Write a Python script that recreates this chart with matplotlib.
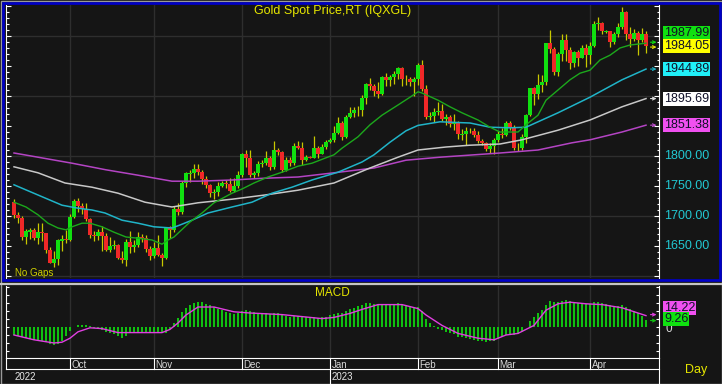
import numpy as np
import pandas as pd
import matplotlib
matplotlib.use('Agg')
import matplotlib.pyplot as plt
from matplotlib.ticker import MultipleLocator
from matplotlib.patches import Rectangle

plt.rcParams['font.family'] = ['Liberation Sans', 'DejaVu Sans']

# ---- data ----
dates = pd.bdate_range('2022-09-13', '2023-04-21')

opens = [1724, 1702, 1697, 1665, 1674, 1677, 1664, 1673, 1671, 1644,
         1622, 1628, 1659, 1661, 1660, 1699, 1725, 1716, 1712, 1695,
         1668, 1666, 1673, 1666, 1644, 1650, 1652, 1630, 1627, 1657,
         1649, 1652, 1665, 1663, 1645, 1633, 1647, 1635, 1630, 1681,
         1676, 1712, 1706, 1755, 1770, 1771, 1779, 1774, 1761, 1751,
         1738, 1740, 1750, 1755, 1754, 1741, 1750, 1769, 1803, 1797,
         1769, 1771, 1786, 1789, 1797, 1781, 1810, 1807, 1777, 1793,
         1788, 1817, 1813, 1793, 1798, 1797, 1814, 1804, 1815, 1824,
         1827, 1839, 1855, 1832, 1865, 1872, 1877, 1876, 1897, 1920,
         1916, 1908, 1904, 1932, 1926, 1931, 1937, 1946, 1929, 1928,
         1923, 1928, 1951, 1912, 1865, 1867, 1873, 1875, 1861, 1865,
         1853, 1855, 1835, 1837, 1842, 1841, 1835, 1825, 1822, 1811,
         1817, 1826, 1837, 1835, 1855, 1847, 1813, 1814, 1831, 1868,
         1913, 1904, 1918, 1923, 1989, 1979, 1940, 1970, 1993, 1977,
         1955, 1973, 1964, 1980, 1969, 1984, 2020, 2021, 2007, 2008,
         1990, 2003, 2015, 2040, 2004, 1995, 2005, 1994, 2004]
highs = [1729, 1707, 1700, 1678, 1680, 1680, 1689, 1689, 1672, 1649,
         1641, 1661, 1668, 1677, 1704, 1729, 1730, 1722, 1721, 1697,
         1675, 1679, 1683, 1671, 1665, 1660, 1654, 1641, 1662, 1675,
         1660, 1674, 1670, 1668, 1650, 1656, 1669, 1638, 1682, 1684,
         1717, 1722, 1758, 1773, 1776, 1786, 1787, 1776, 1767, 1754,
         1745, 1756, 1759, 1760, 1764, 1763, 1775, 1805, 1810, 1810,
         1775, 1791, 1794, 1808, 1800, 1825, 1814, 1809, 1798, 1799,
         1822, 1825, 1823, 1802, 1800, 1833, 1817, 1820, 1827, 1830,
         1850, 1865, 1859, 1869, 1881, 1881, 1883, 1902, 1922, 1930,
         1920, 1924, 1934, 1939, 1935, 1942, 1949, 1949, 1935, 1931,
         1931, 1955, 1960, 1918, 1874, 1880, 1890, 1886, 1870, 1869,
         1870, 1858, 1845, 1848, 1847, 1846, 1842, 1829, 1823, 1822,
         1830, 1841, 1846, 1858, 1858, 1852, 1821, 1836, 1870, 1914,
         1915, 1937, 1935, 1989, 2010, 1982, 1973, 2003, 2004, 1982,
         1975, 1976, 1985, 1987, 1990, 2025, 2032, 2024, 2010, 2009,
         2006, 2022, 2048, 2042, 2015, 2011, 2009, 2013, 2009]
lows = [1697, 1689, 1660, 1654, 1661, 1660, 1654, 1659, 1639, 1621,
        1615, 1618, 1641, 1655, 1658, 1697, 1706, 1704, 1691, 1664,
        1658, 1660, 1642, 1642, 1640, 1645, 1628, 1621, 1617, 1638,
        1640, 1649, 1656, 1640, 1626, 1630, 1634, 1616, 1628, 1664,
        1673, 1701, 1704, 1748, 1757, 1763, 1768, 1754, 1747, 1732,
        1729, 1733, 1748, 1746, 1740, 1740, 1746, 1765, 1781, 1765,
        1764, 1766, 1782, 1785, 1776, 1779, 1801, 1774, 1775, 1783,
        1785, 1811, 1785, 1791, 1796, 1796, 1796, 1803, 1812, 1822,
        1823, 1836, 1826, 1830, 1863, 1865, 1867, 1867, 1886, 1910,
        1900, 1897, 1902, 1917, 1916, 1920, 1928, 1917, 1919, 1917,
        1900, 1918, 1908, 1862, 1860, 1856, 1868, 1859, 1852, 1848,
        1844, 1829, 1827, 1819, 1838, 1832, 1822, 1818, 1808, 1805,
        1804, 1823, 1830, 1834, 1843, 1810, 1809, 1810, 1822, 1866,
        1885, 1895, 1906, 1918, 1972, 1935, 1934, 1958, 1959, 1945,
        1949, 1950, 1963, 1949, 1953, 1982, 2010, 2003, 2005, 1982,
        1986, 1998, 2012, 1993, 1981, 1991, 1969, 1990, 1971]
closes = [1702, 1697, 1665, 1675, 1677, 1664, 1673, 1671, 1644, 1622,
          1628, 1660, 1661, 1660, 1699, 1725, 1716, 1712, 1695, 1668,
          1666, 1673, 1666, 1644, 1650, 1652, 1630, 1627, 1657, 1649,
          1652, 1665, 1663, 1645, 1633, 1647, 1635, 1630, 1681, 1676,
          1712, 1706, 1755, 1771, 1771, 1779, 1774, 1761, 1751, 1738,
          1740, 1750, 1755, 1754, 1741, 1750, 1769, 1803, 1797, 1769,
          1771, 1786, 1789, 1797, 1781, 1810, 1807, 1777, 1793, 1788,
          1817, 1813, 1793, 1798, 1797, 1814, 1804, 1815, 1824, 1827,
          1839, 1855, 1832, 1865, 1872, 1877, 1876, 1897, 1920, 1916,
          1908, 1904, 1932, 1926, 1931, 1937, 1946, 1929, 1928, 1923,
          1928, 1951, 1912, 1865, 1867, 1873, 1875, 1861, 1865, 1854,
          1855, 1836, 1837, 1842, 1841, 1835, 1825, 1822, 1811, 1817,
          1826, 1836, 1835, 1855, 1847, 1813, 1814, 1831, 1868, 1913,
          1904, 1918, 1923, 1989, 1979, 1940, 1970, 1993, 1977, 1955,
          1973, 1964, 1980, 1969, 1984, 2020, 2021, 2008, 2008, 1990,
          2003, 2015, 2040, 2004, 1995, 2005, 1994, 2004, 1984.05]

# moving averages, read at points along each line (bar index, price)
ma_green_x = [0, 3, 6, 8.5, 11, 13, 14.5, 17, 19, 22, 25, 28, 31, 34.5, 37, 38.5, 40,
              44, 47, 50, 54.5, 57, 60, 63.5, 67, 71, 74.5, 78, 80, 82, 86, 89, 92,
              96, 99, 101, 102, 106, 109, 112, 116, 119, 121.5, 126, 128, 131, 133,
              136, 139, 141.5, 144, 146.5, 149, 151.5, 154, 158]
ma_green_y = [1723, 1715, 1702, 1688, 1680, 1677, 1682, 1688, 1688, 1682, 1673, 1665,
              1663, 1660, 1653, 1660, 1665, 1690, 1705, 1722, 1738, 1745, 1755, 1765,
              1773, 1783, 1788, 1797, 1802, 1813, 1832, 1852, 1868, 1885, 1898, 1907,
              1905, 1893, 1882, 1872, 1860, 1848, 1840, 1840, 1852, 1868, 1893, 1910,
              1927, 1938, 1943, 1960, 1968, 1980, 1985, 1987.99]
ma_cyan_x = [0, 6, 12, 16, 19.5, 22.75, 27, 31, 35, 39.5, 41.5, 44.5, 48.5, 54.5,
             59.5, 64.5, 69.5, 74.5, 81, 87, 90, 94, 98, 101, 106.5, 114, 119, 124,
             128, 136, 144, 152, 158]
ma_cyan_y = [1752, 1735, 1718, 1713, 1710, 1705, 1693, 1688, 1682, 1680, 1685, 1693,
             1705, 1715, 1723, 1738, 1748, 1760, 1773, 1790, 1802, 1823, 1842, 1851,
             1857, 1855, 1848, 1847, 1848, 1872, 1898, 1927, 1944.89]
ma_white_x = [0, 6, 12.75, 19.5, 26, 32.75, 37.75, 39.5, 46, 54.5, 62.75, 71, 80,
              89, 96, 101, 108, 114, 121.5, 127, 136, 144, 152, 158]
ma_white_y = [1782, 1772, 1755, 1748, 1738, 1723, 1717, 1715, 1722, 1728, 1735, 1743,
              1755, 1780, 1798, 1810, 1815, 1818, 1820, 1827, 1843, 1860, 1882, 1895.69]
ma_pink_x = [0, 6, 14.5, 23, 31, 39.5, 46, 54.5, 62.75, 71, 80, 90, 98, 106.5,
             121.5, 131, 139.5, 144, 152, 158]
ma_pink_y = [1805, 1798, 1788, 1777, 1768, 1758, 1758, 1760, 1763, 1765, 1772, 1780,
             1793, 1798, 1805, 1810, 1822, 1827, 1840, 1851.38]

# MACD histogram per bar and signal line points
macd_hist = [-10, -11, -13, -14, -15, -16, -16, -17, -19, -21,
             -23, -21, -17, -11, -5, 0, 2, 3, 3, 1,
             -1, -2, -4, -6, -8, -9, -11, -14, -11, -8,
             -7, -6, -6, -6, -7, -7, -6, -6, -7, -3,
             5, 11, 19, 24, 28, 30, 31, 31, 29, 27,
             25, 23, 21, 19, 17, 16, 18, 20, 21, 20,
             19, 18, 17, 17, 16, 17, 17, 15, 14, 13,
             14, 14, 12, 12, 11, 12, 11, 12, 13, 15,
             16, 18, 17, 20, 22, 24, 26, 28, 30, 30,
             29, 28, 29, 29, 29, 29, 30, 28, 27, 25,
             24, 25, 20, 10, 5, 1, -2, -4, -6, -8,
             -9, -12, -13, -14, -15, -16, -17, -18, -19, -18,
             -17, -15, -13, -10, -9, -10, -9, -6, 0, 8,
             12, 17, 21, 28, 32, 31, 31, 33, 34, 32,
             31, 30, 30, 29, 29, 31, 31, 30, 29, 27,
             26, 26, 28, 25, 22, 20, 17, 14, 9.26]
signal_x = [0, 5, 10, 12, 14, 16, 19, 22, 26, 30, 37, 39, 41, 43, 46, 50, 55, 59, 67,
            73, 77, 80, 84, 87, 91, 97, 101, 103, 107, 111, 116, 120, 123, 126, 130,
            133, 136, 139, 143, 147, 152, 158]
signal_y = [-10, -16, -20, -19, -14, -6, -1, -2, -7, -7, -7, -3, 5, 15, 25, 25, 19,
            17.5, 15.5, 12.5, 10.5, 12, 17, 22, 28, 28, 23, 15, 2, -8, -14, -16, -10,
            -8, 2, 21, 29, 31, 29, 28, 24, 14.22]

# ---- layout (pixel geometry) ----
W, H = 722, 384
BG = '#151515'
GRID = '#2e2e2e'
X_LEFT, X_RIGHT = 5.5, 659
I_MIN, I_MAX = -2.125, 161.25
MAIN_TOP, MAIN_BOT = 5, 278
P_MIN, P_MAX = 1596.67, 2051.67
MACD_TOP, MACD_BOT = 286, 358
M_MIN, M_MAX = -38.75, 51.25


def rect(left, top, right, bottom):
    return [left / W, 1 - bottom / H, (right - left) / W, (bottom - top) / H]


def ix(i):
    return X_LEFT + (i - I_MIN) * (X_RIGHT - X_LEFT) / (I_MAX - I_MIN)


def py_main(v):
    return MAIN_BOT - (v - P_MIN) * (MAIN_BOT - MAIN_TOP) / (P_MAX - P_MIN)


def py_macd(v):
    return MACD_BOT - (v - M_MIN) * (MACD_BOT - MACD_TOP) / (M_MAX - M_MIN)


fig = plt.figure(figsize=(W / 100, H / 100), dpi=100)
fig.patch.set_facecolor(BG)

idx = np.arange(len(closes))
month_starts = [k for k in range(1, len(dates)) if dates[k].month != dates[k - 1].month]

# ---- price pane ----
ax = fig.add_axes(rect(X_LEFT, MAIN_TOP, X_RIGHT, MAIN_BOT))
ax.set_facecolor(BG)
ax.set_xlim(I_MIN, I_MAX)
ax.set_ylim(P_MIN, P_MAX)
for p in [1600, 1700, 1800, 1900, 2000]:
    ax.axhline(p, color=GRID, lw=1, zorder=0)
for k in month_starts:
    ax.axvline(k, color=GRID, lw=1, zorder=0)

o = np.array(opens, dtype=float)
c = np.array(closes, dtype=float)
ax.vlines(idx, lows, highs, color='#c8c800', lw=0.9, zorder=2)
body_low = np.minimum(o, c)
body_h = np.maximum(np.abs(c - o), 1.0)
body_col = np.where(c >= o, '#10e010', '#f02828')
ax.bar(idx, body_h, bottom=body_low, width=0.8, color=body_col, linewidth=0, zorder=3)

ax.plot(ma_pink_x, ma_pink_y, color='#b444c4', lw=1.1, zorder=4)
ax.plot(ma_white_x, ma_white_y, color='#c8c8c8', lw=1.1, zorder=4)
ax.plot(ma_cyan_x, ma_cyan_y, color='#20b4c8', lw=1.1, zorder=4)
ax.plot(ma_green_x, ma_green_y, color='#1ca81c', lw=1.0, zorder=4)

ax.set_xticks([])
ax.yaxis.set_major_locator(MultipleLocator(50))
ax.yaxis.set_minor_locator(MultipleLocator(10))
ax.tick_params(axis='y', which='both', direction='in', left=True, right=True,
               labelleft=False, labelright=False, color='white', width=0.8)
ax.tick_params(axis='y', which='major', length=3.6)
ax.tick_params(axis='y', which='minor', length=1.8)
for s in ['top', 'bottom']:
    ax.spines[s].set_visible(False)
for s in ['left', 'right']:
    ax.spines[s].set_color('white')
    ax.spines[s].set_linewidth(0.8)

# ---- MACD pane ----
axm = fig.add_axes(rect(X_LEFT, MACD_TOP, X_RIGHT, MACD_BOT))
axm.set_facecolor(BG)
axm.set_xlim(I_MIN, I_MAX)
axm.set_ylim(M_MIN, M_MAX)
for k in month_starts:
    axm.axvline(k, color=GRID, lw=1, zorder=0)
axm.bar(idx, macd_hist, width=0.45, color='#10c010', linewidth=0, zorder=2)
axm.plot(signal_x, signal_y, color='#e040e0', lw=1.0, zorder=3)
axm.set_xticks([])
axm.yaxis.set_major_locator(MultipleLocator(10))
axm.tick_params(axis='y', which='both', direction='in', left=True, right=True,
                labelleft=False, labelright=False, color='white', width=0.8, length=2.5)
axm.spines['top'].set_visible(False)
for s in ['left', 'right', 'bottom']:
    axm.spines[s].set_color('white')
    axm.spines[s].set_linewidth(0.8)

# ---- overlay in pixel coordinates: frames, labels, date strip ----
af = fig.add_axes([0, 0, 1, 1], zorder=10)
af.set_xlim(0, W)
af.set_ylim(H, 0)
af.axis('off')
af.patch.set_alpha(0)

af.add_patch(Rectangle((0.5, 0.5), W - 1, H - 1, fill=False, ec='#9a9a9a', lw=1.0))
af.add_patch(Rectangle((2.6, 2.6), 717, 277.6, fill=False, ec='#0000c8', lw=1.9))
af.plot([0, W], [283.5, 283.5], color='#c4c4c4', lw=1.6)

# date strip
af.plot([X_LEFT, X_RIGHT], [369, 369], color='white', lw=0.8)
af.plot([X_LEFT, X_LEFT], [358, 369], color='white', lw=0.8)
af.plot([X_RIGHT, X_RIGHT], [358, 384], color='white', lw=0.8)
for k in month_starts:
    x = ix(k)
    bottom = 384 if dates[k].month == 1 else 369
    af.plot([x, x], [358, bottom], color='white', lw=0.8)
    af.text(x + 1.5, 364.5, dates[k].strftime('%b'), color='#d8d8d8', fontsize=7,
            ha='left', va='center')
    if dates[k].month == 1:
        af.text(x + 1.5, 376.5, str(dates[k].year), color='#e8e8e8', fontsize=7,
                ha='left', va='center')
af.text(15, 376.5, str(dates[0].year), color='#e8e8e8', fontsize=7, ha='left', va='center')

# titles
af.text((X_LEFT + X_RIGHT) / 2, 11, 'Gold Spot Price,RT (IQXGL)', color='#e6e600',
        fontsize=9, ha='center', va='center')
af.text((X_LEFT + X_RIGHT) / 2, 293, 'MACD', color='#e6e600', fontsize=8.5,
        ha='center', va='center')
af.text(15, 273, 'No Gaps', color='#d0d000', fontsize=7, ha='left', va='center')
af.text(685, 370, 'Day', color='#e6e600', fontsize=9, ha='left', va='center')

# price axis labels
for p in [1650, 1700, 1750, 1800]:
    af.text(664, py_main(p), f'{p:.2f}', color='#22c8d2', fontsize=9, ha='left', va='center')


def marker_arrow(y, color):
    af.annotate('', xy=(656.5, y), xytext=(650.5, y),
                arrowprops=dict(arrowstyle='->', color=color, lw=0.8, mutation_scale=5,
                                shrinkA=0, shrinkB=0))


# last-value tags on the price pane (label y, arrow y)
tags = [
    (ma_green_y[-1], '#10e010', '#10e010', py_main(closes[-1]) - 12.5, py_main(ma_green_y[-1]) - 1),
    (closes[-1], '#ffff00', '#e6e600', py_main(closes[-1]), py_main(closes[-1]) + 1.5),
    (ma_cyan_y[-1], '#20f0f8', '#20b4c8', py_main(ma_cyan_y[-1]), py_main(ma_cyan_y[-1])),
    (ma_white_y[-1], '#ffffff', '#e0e0e0', py_main(ma_white_y[-1]), py_main(ma_white_y[-1])),
    (ma_pink_y[-1], '#f050f0', '#c050d0', py_main(ma_pink_y[-1]), py_main(ma_pink_y[-1])),
]
for val, fc, ac, ty, ay in tags:
    af.text(664, ty, f'{val:.2f}', color='#101028', fontsize=9, ha='left', va='center',
            bbox=dict(boxstyle='square,pad=0.08', fc=fc, ec='none'))
    marker_arrow(ay, ac)

# MACD tags
af.text(665, py_macd(0) + 2.5, '0', color='#d8d8d8', fontsize=8.5, ha='left', va='center')
af.text(664, py_macd(macd_hist[-1]) - 11.5, f'{signal_y[-1]:.2f}', color='#101028', fontsize=9,
        ha='left', va='center', bbox=dict(boxstyle='square,pad=0.08', fc='#f050f0', ec='none'))
af.text(664, py_macd(macd_hist[-1]) - 1, f'{macd_hist[-1]:.2f}', color='#101028', fontsize=9,
        ha='left', va='center', bbox=dict(boxstyle='square,pad=0.08', fc='#10e010', ec='none'))
marker_arrow(py_macd(signal_y[-1]) - 1, '#e040e0')
marker_arrow(py_macd(macd_hist[-1]) + 1, '#10c010')

fig.savefig('out.png', dpi=100, facecolor=BG)
